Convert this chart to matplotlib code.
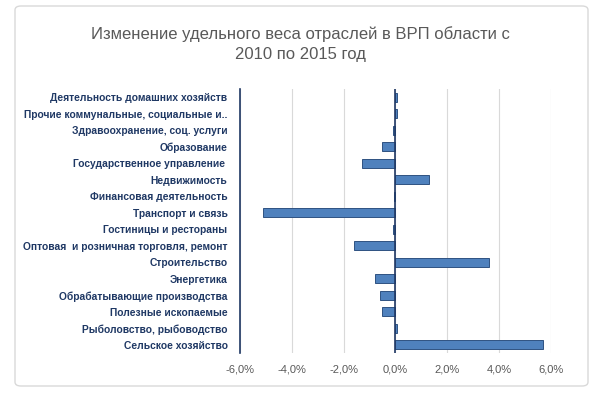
import matplotlib
matplotlib.use("Agg")
import matplotlib.pyplot as plt
from matplotlib.patches import FancyBboxPatch

categories = [
    "Сельское хозяйство",
    "Рыболовство, рыбоводство",
    "Полезные ископаемые",
    "Обрабатывающие производства",
    "Энергетика",
    "Строительство",
    "Оптовая  и розничная торговля, ремонт",
    "Гостиницы и рестораны",
    "Транспорт и связь",
    "Финансовая деятельность",
    "Недвижимость",
    "Государственное управление ",
    "Образование",
    "Здравоохранение, соц. услуги",
    "Прочие коммунальные, социальные и..",
    "Деятельность домашних хозяйств",
]
values = [5.7, 0.05, -0.5, -0.6, -0.8, 3.6, -1.6, -0.1,
          -5.1, -0.05, 1.3, -1.3, -0.5, -0.1, 0.05, 0.05]
xticks = [-6, -4, -2, 0, 2, 4, 6]

plt.rcParams['font.family'] = ['Liberation Sans', 'DejaVu Sans']

fig = plt.figure(figsize=(6, 4), dpi=100)
fig.patches.append(FancyBboxPatch((0.025, 0.035), 0.955, 0.95,
                                  boxstyle="round,pad=0,rounding_size=0.01",
                                  transform=fig.transFigure, facecolor="none",
                                  edgecolor="#d9d9d9", linewidth=1, zorder=-1))

ax = fig.add_axes([0.4, 0.1175, 0.518, 0.66])
ax.patch.set_alpha(0)
ypos = list(range(len(categories)))
ax.barh(ypos, values, height=0.55, color="#4f81bd", edgecolor="#2f5282", linewidth=0.7, zorder=3)

ax.set_xlim(-6, 6)
ax.set_ylim(-0.5, len(categories) - 0.5)
ax.set_xticks(xticks)
ax.set_xticklabels([f"{v:.1f}%".replace('.', ',') for v in xticks], color="#595959", fontsize=8)
ax.set_yticks(ypos)
ax.set_yticklabels(categories, fontsize=7.4, fontweight="bold", color="#1f3864")
ax.tick_params(length=0, pad=8)
ax.tick_params(axis='y', pad=9)

ax.grid(axis='x', color="#d9d9d9", linewidth=0.8, zorder=0)
ax.axvline(0, color="#1f3864", linewidth=1.2, zorder=4)
for s in ["top", "right", "bottom"]:
    ax.spines[s].set_visible(False)
ax.spines["left"].set_color("#1f3864")
ax.spines["left"].set_linewidth(1.2)

fig.text(0.5, 0.89, "Изменение удельного веса отраслей в ВРП области с\n2010 по 2015 год",
         ha="center", va="center", fontsize=12, color="#595959", linespacing=1.45)

fig.savefig("out.png", dpi=100)
